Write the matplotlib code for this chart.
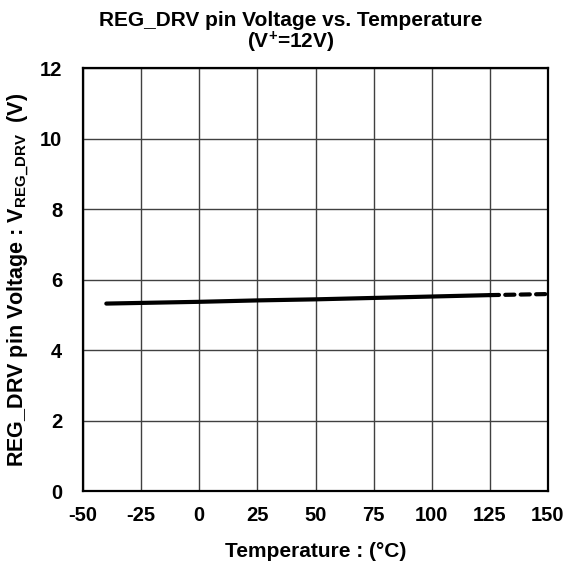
import matplotlib
matplotlib.use('Agg')
import matplotlib.pyplot as plt
import numpy as np

plt.rcParams['font.family'] = 'Liberation Sans'
plt.rcParams['font.weight'] = 'bold'
plt.rcParams['mathtext.fontset'] = 'custom'
plt.rcParams['mathtext.rm'] = 'Liberation Sans:bold'
plt.rcParams['mathtext.it'] = 'Liberation Sans:bold'
plt.rcParams['mathtext.bf'] = 'Liberation Sans:bold'
plt.rcParams['axes.unicode_minus'] = False

# measured region
temp_solid = [-40, 0, 25, 50, 75, 100, 125]
volt_solid = [5.32, 5.37, 5.41, 5.44, 5.48, 5.52, 5.56]
# extrapolated region
temp_dash = [125, 150]
volt_dash = [5.56, 5.59]

xticks = [-50, -25, 0, 25, 50, 75, 100, 125, 150]
yticks = [0, 2, 4, 6, 8, 10, 12]

fig = plt.figure(figsize=(5.69, 5.62), dpi=100)
ax = fig.add_axes([0.146, 0.126, 0.817, 0.753])

ax.plot(temp_solid, volt_solid, color='black', lw=3, solid_capstyle='round')
ax.plot(temp_dash, volt_dash, color='black', lw=3, ls=(0, (2.2, 1.5)),
        dash_capstyle='round')

ax.set_xlim(-50, 150)
ax.set_ylim(0, 12)
ax.set_xticks(xticks)
ax.set_xticklabels([str(t) for t in xticks])
ax.set_yticks(yticks)
ax.grid(True, color='#404040', lw=1)
ax.tick_params(length=0, labelsize=14.5)
ax.tick_params(axis='x', pad=11)
ax.tick_params(axis='y', pad=15)
for s in ax.spines.values():
    s.set_linewidth(1.6)
    s.set_color('black')

ax.set_title('REG_DRV pin Voltage vs. Temperature\n(V$^{+}$=12V)',
             fontsize=15, fontweight='bold', pad=14, linespacing=1.0, x=0.447)
ax.set_xlabel('Temperature : (°C)', fontsize=15, fontweight='bold', labelpad=12)
ax.set_ylabel('REG_DRV pin Voltage : V$_{\\mathregular{REG\\_DRV}}$  (V)',
              fontsize=15.5, fontweight='bold', labelpad=6)

fig.savefig('out.png', dpi=100)
